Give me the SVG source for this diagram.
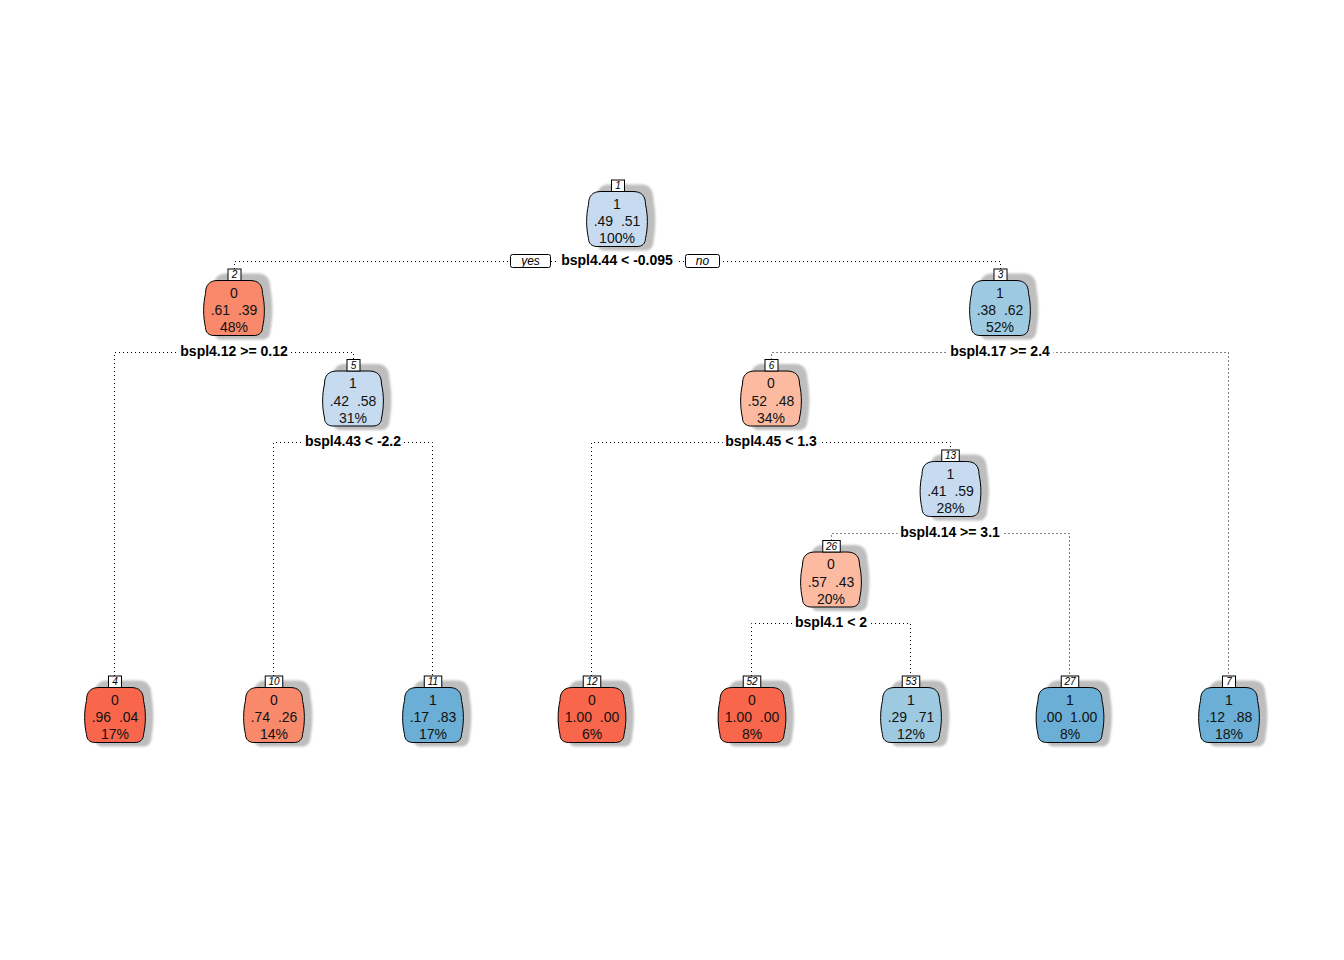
<svg xmlns="http://www.w3.org/2000/svg" xmlns:xlink="http://www.w3.org/1999/xlink" width="1344" height="960" viewBox="0 0 1344 960">
<style>
.nt{font-family:"Liberation Sans",Arial,sans-serif;font-size:14px;fill:#111;text-anchor:middle;white-space:pre}
.sp{font-family:"Liberation Sans",Arial,sans-serif;font-size:14px;font-weight:bold;fill:#000;text-anchor:middle;stroke:#fff;stroke-width:7;stroke-linejoin:round;paint-order:stroke}
.num{font-family:"Liberation Sans",Arial,sans-serif;font-size:10px;font-style:italic;fill:#000;text-anchor:middle}
.yn{font-family:"Liberation Sans",Arial,sans-serif;font-size:12px;font-style:italic;fill:#000;text-anchor:middle}
.nb{fill:#fff;stroke:#000;stroke-width:1}
.bx{stroke:#000;stroke-width:1}
.sh{fill:#bebebe;filter:url(#blur)}
.e{fill:none;stroke:#000;stroke-width:1;stroke-dasharray:1 3}
.lb{fill:#c6dbef}.mb{fill:#9ecae1}.db{fill:#6baed6}
.lr{fill:#fcbba1}.mr{fill:#f8896b}.dr{fill:#f8674b}
</style>
<defs>
<filter id="blur" x="-20%" y="-20%" width="140%" height="140%"><feGaussianBlur stdDeviation="0.9"/></filter>
<path id="b" d="M -16,0 H 16 C 24.5,0 28.5,4.5 28.5,13 C 31,24 31,36 28.5,47 C 28.5,52 25,55 20,55 H -20 C -25,55 -28.5,52 -28.5,47 C -31,36 -31,24 -28.5,13 C -28.5,4.5 -24.5,0 -16,0 Z"/>
<path id="w" d="M -19.5,0 H 19.5 C 28,0 32,4.5 32,13 C 34.5,24 34.5,36 32,47 C 32,52 28.5,55 23.5,55 H -23.5 C -28.5,55 -32,52 -32,47 C -34.5,36 -34.5,24 -32,13 C -32,4.5 -28,0 -19.5,0 Z"/>
</defs>
<rect width="1344" height="960" fill="#fff"/>
<g id="connectors">
<path class="e" d="M234.5,269 V261.5 H1000.5 V269"/>
<path class="e" d="M114.5,676 V352.5 H353.5 V359.5"/>
<path class="e" d="M771.5,359.5 V352.5 H1228.5 V676"/>
<path class="e" d="M273.5,676 V442.5 H432.5 V676"/>
<path class="e" d="M591.5,676 V442.5 H950.5 V450"/>
<path class="e" d="M831.5,540.5 V533.5 H1069.5 V676"/>
<path class="e" d="M751.5,676 V623.5 H910.5 V676"/>
</g>
<g id="labels">
<rect class="nb" x="510.5" y="254.5" width="40" height="13" rx="2"/>
<text class="yn" x="530.5" y="265">yes</text>
<rect class="nb" x="685.5" y="254.5" width="34" height="13" rx="2"/>
<text class="yn" x="702.5" y="265">no</text>
<text class="sp" x="617" y="265">bspl4.44 &lt; -0.095</text>
<text class="sp" x="234" y="356">bspl4.12 &gt;= 0.12</text>
<text class="sp" x="1000" y="356">bspl4.17 &gt;= 2.4</text>
<text class="sp" x="353" y="446">bspl4.43 &lt; -2.2</text>
<text class="sp" x="771" y="446">bspl4.45 &lt; 1.3</text>
<text class="sp" x="950" y="537">bspl4.14 &gt;= 3.1</text>
<text class="sp" x="831" y="627">bspl4.1 &lt; 2</text>
</g>
<g id="node1">
<use xlink:href="#b" class="sh" transform="translate(625,184.5) scale(1,1.2)"/>
<use xlink:href="#b" class="bx lb" transform="translate(617,191.5)"/>
<rect class="nb" x="611.5" y="180" width="13" height="11.5"/>
<text class="num" x="618" y="189">1</text>
<text class="nt" x="617" y="208.5">1</text>
<text class="nt" x="617" y="226">.49  .51</text>
<text class="nt" x="617" y="243.3">100%</text>
</g>
<g id="node2">
<use xlink:href="#b" class="sh" transform="translate(242,273.5) scale(1,1.2)"/>
<use xlink:href="#b" class="bx mr" transform="translate(234,280.5)"/>
<rect class="nb" x="228" y="269" width="13" height="11.5"/>
<text class="num" x="234.5" y="278">2</text>
<text class="nt" x="234" y="297.5">0</text>
<text class="nt" x="234" y="315">.61  .39</text>
<text class="nt" x="234" y="332.3">48%</text>
</g>
<g id="node3">
<use xlink:href="#b" class="sh" transform="translate(1008,273.5) scale(1,1.2)"/>
<use xlink:href="#b" class="bx mb" transform="translate(1000,280.5)"/>
<rect class="nb" x="994" y="269" width="13" height="11.5"/>
<text class="num" x="1000.5" y="278">3</text>
<text class="nt" x="1000" y="297.5">1</text>
<text class="nt" x="1000" y="315">.38  .62</text>
<text class="nt" x="1000" y="332.3">52%</text>
</g>
<g id="node5">
<use xlink:href="#b" class="sh" transform="translate(361,364) scale(1,1.2)"/>
<use xlink:href="#b" class="bx lb" transform="translate(353,371)"/>
<rect class="nb" x="347" y="359.5" width="13" height="11.5"/>
<text class="num" x="353.5" y="368.5">5</text>
<text class="nt" x="353" y="388">1</text>
<text class="nt" x="353" y="405.5">.42  .58</text>
<text class="nt" x="353" y="422.8">31%</text>
</g>
<g id="node6">
<use xlink:href="#b" class="sh" transform="translate(779,364) scale(1,1.2)"/>
<use xlink:href="#b" class="bx lr" transform="translate(771,371)"/>
<rect class="nb" x="765" y="359.5" width="13" height="11.5"/>
<text class="num" x="771.5" y="368.5">6</text>
<text class="nt" x="771" y="388">0</text>
<text class="nt" x="771" y="405.5">.52  .48</text>
<text class="nt" x="771" y="422.8">34%</text>
</g>
<g id="node13">
<use xlink:href="#b" class="sh" transform="translate(958.5,454.5) scale(1,1.2)"/>
<use xlink:href="#b" class="bx lb" transform="translate(950.5,461.5)"/>
<rect class="nb" x="941.75" y="450" width="17.5" height="11.5"/>
<text class="num" x="950.5" y="459">13</text>
<text class="nt" x="950.5" y="478.5">1</text>
<text class="nt" x="950.5" y="496">.41  .59</text>
<text class="nt" x="950.5" y="513.3">28%</text>
</g>
<g id="node26">
<use xlink:href="#b" class="sh" transform="translate(839,545) scale(1,1.2)"/>
<use xlink:href="#b" class="bx lr" transform="translate(831,552)"/>
<rect class="nb" x="822.75" y="540.5" width="17.5" height="11.5"/>
<text class="num" x="831.5" y="549.5">26</text>
<text class="nt" x="831" y="569">0</text>
<text class="nt" x="831" y="586.5">.57  .43</text>
<text class="nt" x="831" y="603.8">20%</text>
</g>
<g id="node4">
<use xlink:href="#b" class="sh" transform="translate(123,680.5) scale(1,1.2)"/>
<use xlink:href="#b" class="bx dr" transform="translate(115,687.5)"/>
<rect class="nb" x="108.5" y="676" width="13" height="11.5"/>
<text class="num" x="115" y="685">4</text>
<text class="nt" x="115" y="704.5">0</text>
<text class="nt" x="115" y="722">.96  .04</text>
<text class="nt" x="115" y="739.3">17%</text>
</g>
<g id="node10">
<use xlink:href="#b" class="sh" transform="translate(282,680.5) scale(1,1.2)"/>
<use xlink:href="#b" class="bx mr" transform="translate(274,687.5)"/>
<rect class="nb" x="265.25" y="676" width="17.5" height="11.5"/>
<text class="num" x="274" y="685">10</text>
<text class="nt" x="274" y="704.5">0</text>
<text class="nt" x="274" y="722">.74  .26</text>
<text class="nt" x="274" y="739.3">14%</text>
</g>
<g id="node11">
<use xlink:href="#b" class="sh" transform="translate(441,680.5) scale(1,1.2)"/>
<use xlink:href="#b" class="bx db" transform="translate(433,687.5)"/>
<rect class="nb" x="424.25" y="676" width="17.5" height="11.5"/>
<text class="num" x="433" y="685">11</text>
<text class="nt" x="433" y="704.5">1</text>
<text class="nt" x="433" y="722">.17  .83</text>
<text class="nt" x="433" y="739.3">17%</text>
</g>
<g id="node12">
<use xlink:href="#w" class="sh" transform="translate(600,680.5) scale(1,1.2)"/>
<use xlink:href="#w" class="bx dr" transform="translate(592,687.5)"/>
<rect class="nb" x="583.25" y="676" width="17.5" height="11.5"/>
<text class="num" x="592" y="685">12</text>
<text class="nt" x="592" y="704.5">0</text>
<text class="nt" x="592" y="722">1.00  .00</text>
<text class="nt" x="592" y="739.3">6%</text>
</g>
<g id="node52">
<use xlink:href="#w" class="sh" transform="translate(760,680.5) scale(1,1.2)"/>
<use xlink:href="#w" class="bx dr" transform="translate(752,687.5)"/>
<rect class="nb" x="743.25" y="676" width="17.5" height="11.5"/>
<text class="num" x="752" y="685">52</text>
<text class="nt" x="752" y="704.5">0</text>
<text class="nt" x="752" y="722">1.00  .00</text>
<text class="nt" x="752" y="739.3">8%</text>
</g>
<g id="node53">
<use xlink:href="#b" class="sh" transform="translate(919,680.5) scale(1,1.2)"/>
<use xlink:href="#b" class="bx mb" transform="translate(911,687.5)"/>
<rect class="nb" x="902.25" y="676" width="17.5" height="11.5"/>
<text class="num" x="911" y="685">53</text>
<text class="nt" x="911" y="704.5">1</text>
<text class="nt" x="911" y="722">.29  .71</text>
<text class="nt" x="911" y="739.3">12%</text>
</g>
<g id="node27">
<use xlink:href="#w" class="sh" transform="translate(1078,680.5) scale(1,1.2)"/>
<use xlink:href="#w" class="bx db" transform="translate(1070,687.5)"/>
<rect class="nb" x="1061.25" y="676" width="17.5" height="11.5"/>
<text class="num" x="1070" y="685">27</text>
<text class="nt" x="1070" y="704.5">1</text>
<text class="nt" x="1070" y="722">.00  1.00</text>
<text class="nt" x="1070" y="739.3">8%</text>
</g>
<g id="node7">
<use xlink:href="#b" class="sh" transform="translate(1237,680.5) scale(1,1.2)"/>
<use xlink:href="#b" class="bx db" transform="translate(1229,687.5)"/>
<rect class="nb" x="1222.5" y="676" width="13" height="11.5"/>
<text class="num" x="1229" y="685">7</text>
<text class="nt" x="1229" y="704.5">1</text>
<text class="nt" x="1229" y="722">.12  .88</text>
<text class="nt" x="1229" y="739.3">18%</text>
</g>
</svg>
